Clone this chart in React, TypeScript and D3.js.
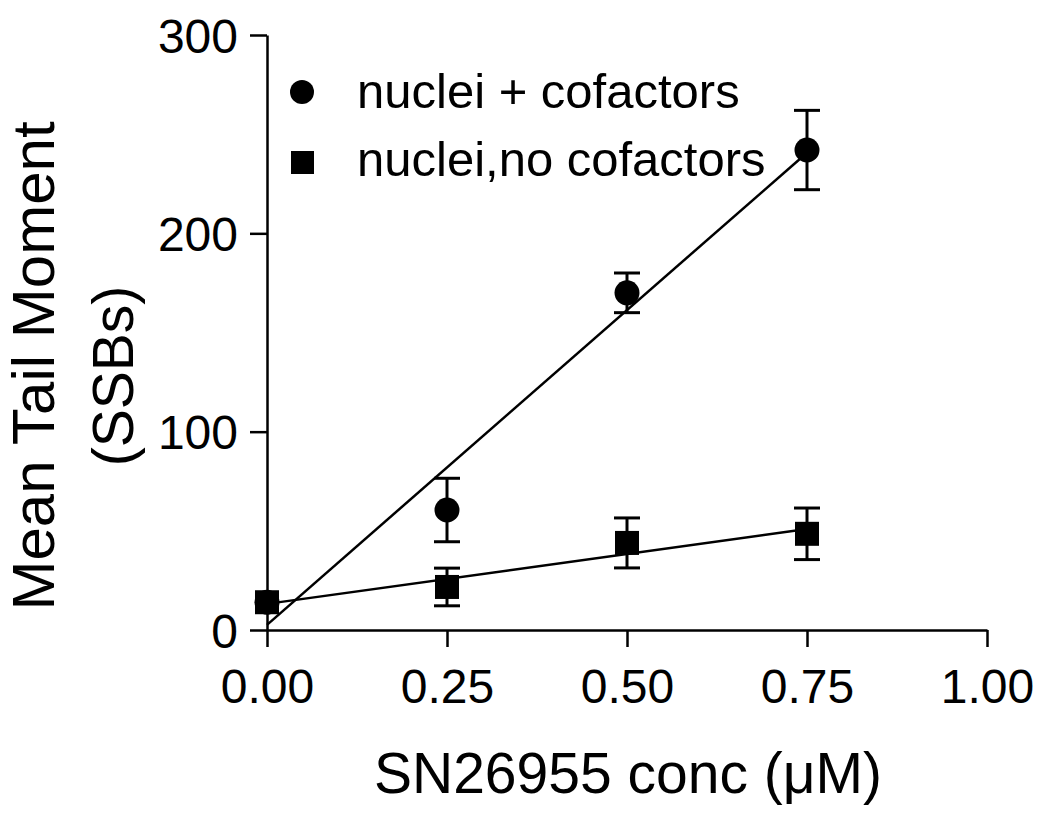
import React, { useEffect, useRef } from 'react';
import * as d3 from 'd3';

// concentrations (µM)
const conc = [0, 0.25, 0.5, 0.75];
// nuclei + cofactors
const withCofactors = [14, 60.5, 170, 242];
const withCofactorsErr = [0, 16, 10, 20];
// nuclei, no cofactors
const noCofactors = [14, 21.7, 43.9, 48.5];
const noCofactorsErr = [0, 9.5, 12.6, 13];

const xTicks = [0, 0.25, 0.5, 0.75, 1.0];
const yTicks = [0, 100, 200, 300];
const legendLabels = ['nuclei + cofactors', 'nuclei,no cofactors'];

const W = 1050;
const H = 818;
const FONT = '"Liberation Sans", Arial, Helvetica, sans-serif';

function fit(xs: number[], ys: number[]) {
  const mx = d3.mean(xs) as number;
  const my = d3.mean(ys) as number;
  let sxy = 0, sxx = 0;
  xs.forEach((x, i) => { sxy += (x - mx) * (ys[i] - my); sxx += (x - mx) * (x - mx); });
  const slope = sxy / sxx;
  return { slope, intercept: my - slope * mx };
}

export default function App() {
  const ref = useRef<SVGSVGElement>(null);

  useEffect(() => {
    const svg = d3.select(ref.current);
    svg.selectAll('*').remove();

    const x = d3.scaleLinear().domain([0, 1]).range([267, 987]);
    const y = d3.scaleLinear().domain([0, 300]).range([630, 35]);

    // axes
    const xAxis = svg.append('g')
      .attr('transform', 'translate(0,630)')
      .call(d3.axisBottom(x).tickValues(xTicks).tickSize(17).tickSizeOuter(0).tickFormat(d3.format('.2f')));
    xAxis.select('.domain').attr('stroke', '#000').attr('stroke-width', 2.5);
    xAxis.selectAll('.tick line').attr('stroke', '#000').attr('stroke-width', 2.5);
    xAxis.selectAll('.tick text')
      .attr('font-family', FONT).attr('font-size', 48).attr('fill', '#000')
      .attr('y', 39).attr('dy', '0.71em');

    const yAxis = svg.append('g')
      .attr('transform', 'translate(267,0)')
      .call(d3.axisLeft(y).tickValues(yTicks).tickSize(17).tickSizeOuter(0));
    yAxis.select('.domain').attr('stroke', '#000').attr('stroke-width', 2.5);
    yAxis.selectAll('.tick line').attr('stroke', '#000').attr('stroke-width', 2.5);
    yAxis.selectAll('.tick text')
      .attr('font-family', FONT).attr('font-size', 48).attr('fill', '#000')
      .attr('x', -29).attr('dy', '0.36em');

    // titles
    svg.append('text')
      .attr('x', 628).attr('y', 793)
      .attr('text-anchor', 'middle')
      .attr('font-family', FONT).attr('font-size', 57)
      .text('SN26955 conc (\u03bcM)');

    const yt = svg.append('text')
      .attr('transform', 'translate(54,366) rotate(-90)')
      .attr('text-anchor', 'middle')
      .attr('font-family', FONT);
    yt.append('tspan').attr('x', 0).attr('y', 0).attr('font-size', 60).text('Mean Tail Moment');
    yt.append('tspan').attr('x', -10).attr('y', 79).attr('font-size', 57).text('(SSBs)');

    const series = [
      { ys: withCofactors, err: withCofactorsErr, shape: 'circle' },
      { ys: noCofactors, err: noCofactorsErr, shape: 'square' },
    ];

    // regression lines
    series.forEach(s => {
      const { slope, intercept } = fit(conc, s.ys);
      const ends = [conc[0], conc[conc.length - 1]];
      svg.append('path')
        .datum(ends)
        .attr('fill', 'none').attr('stroke', '#000').attr('stroke-width', 2.5)
        .attr('d', d3.line<number>().x(d => x(d)).y(d => y(intercept + slope * d)));
    });

    // error bars
    series.forEach(s => {
      const g = svg.append('g').attr('stroke', '#000').attr('stroke-width', 3);
      conc.forEach((c, i) => {
        if (!s.err[i]) return;
        const cx = x(c);
        const top = y(s.ys[i] + s.err[i]);
        const bot = y(s.ys[i] - s.err[i]);
        g.append('line').attr('x1', cx).attr('x2', cx).attr('y1', top).attr('y2', bot);
        g.append('line').attr('x1', cx - 13).attr('x2', cx + 13).attr('y1', top).attr('y2', top);
        g.append('line').attr('x1', cx - 13).attr('x2', cx + 13).attr('y1', bot).attr('y2', bot);
      });
    });

    // markers
    series.forEach(s => {
      conc.forEach((c, i) => {
        if (s.shape === 'circle') {
          svg.append('circle').attr('cx', x(c)).attr('cy', y(s.ys[i])).attr('r', 12.5).attr('fill', '#000');
        } else {
          svg.append('rect').attr('x', x(c) - 12).attr('y', y(s.ys[i]) - 12)
            .attr('width', 24).attr('height', 24).attr('fill', '#000');
        }
      });
    });

    // legend
    const legend = svg.append('g');
    legend.append('circle').attr('cx', 302).attr('cy', 92).attr('r', 12).attr('fill', '#000');
    legend.append('rect').attr('x', 291).attr('y', 151).attr('width', 23).attr('height', 23).attr('fill', '#000');
    legendLabels.forEach((lab, i) => {
      legend.append('text')
        .attr('x', 357).attr('y', 108 + i * 68)
        .attr('font-family', FONT).attr('font-size', 49)
        .text(lab);
    });
  }, []);

  return (
    <svg ref={ref} width={W} height={H}
      style={{ position: 'absolute', left: 0, top: 0, background: '#fff' }} />
  );
}
